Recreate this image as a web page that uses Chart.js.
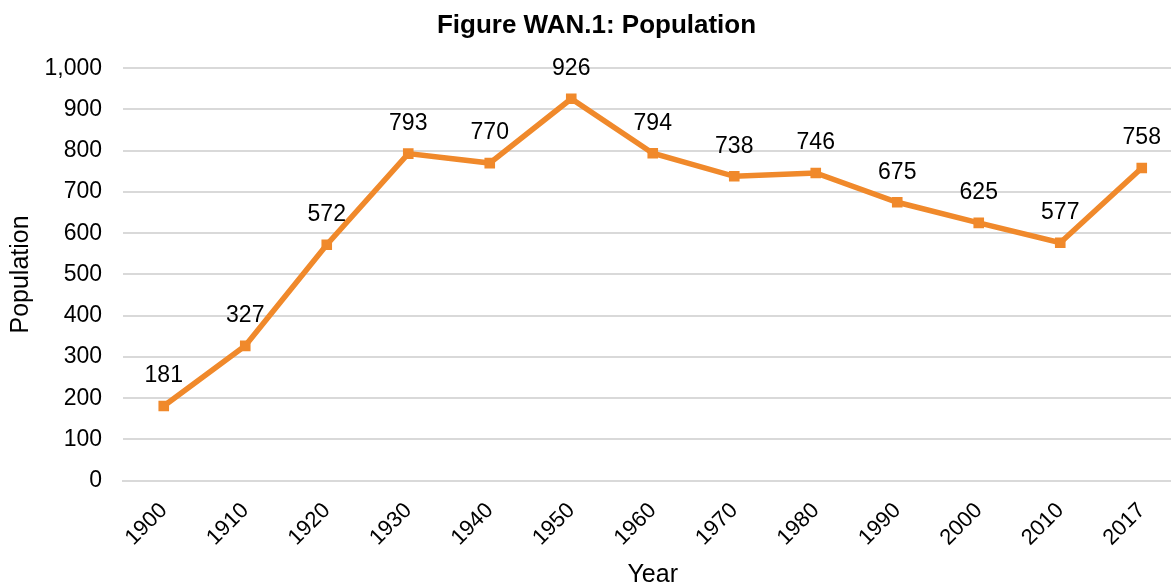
<!DOCTYPE html>
<html>
<head>
<meta charset="utf-8">
<script src="https://cdn.jsdelivr.net/npm/chart.js@4"></script>
<style>
  html, body { margin: 0; padding: 0; background: #fff; overflow: hidden; }
  #wrap { width: 1190px; height: 588px; position: relative; }
</style>
</head>
<body>
<div id="wrap"><canvas id="myChart"></canvas></div>
<script>
var years = ["1900", "1910", "1920", "1930", "1940", "1950", "1960", "1970", "1980", "1990", "2000", "2010", "2017"];
var population = [181, 327, 572, 793, 770, 926, 794, 738, 746, 675, 625, 577, 758];
var yTicks = [0, 100, 200, 300, 400, 500, 600, 700, 800, 900, 1000];

var orange = "#F0892B";
var fontFamily = "'Liberation Sans', Arial, sans-serif";

// draws the value above every point
var valueLabels = {
    id: 'valueLabels',
    afterDatasetsDraw: function (chart) {
        var ctx = chart.ctx;
        var meta = chart.getDatasetMeta(0);
        ctx.save();
        ctx.font = "23px " + fontFamily;
        ctx.fillStyle = "#000";
        ctx.textAlign = "center";
        ctx.textBaseline = "middle";
        meta.data.forEach(function (pt, i) {
            ctx.fillText(chart.data.datasets[0].data[i], pt.x, pt.y - 30);
        });
        ctx.restore();
    }
};

var ctx = document.getElementById("myChart");
var myChart = new Chart(ctx, {
    type: 'line',
    data: {
        labels: years,
        datasets: [{
            label: "Population",
            data: population,
            borderColor: orange,
            backgroundColor: orange,
            borderWidth: 5.5,
            pointStyle: 'rect',
            pointRadius: 7.5,
            pointHoverRadius: 7.5,
            pointBorderWidth: 0,
            tension: 0
        }]
    },
    plugins: [valueLabels],
    options: {
        responsive: true,
        maintainAspectRatio: false,
        animation: false,
        layout: {
            padding: { left: 6, right: 3, top: 6, bottom: 0 }
        },
        plugins: {
            legend: { display: false },
            tooltip: { enabled: false },
            title: {
                display: true,
                text: "Figure WAN.1: Population",
                color: "#000",
                font: { family: fontFamily, size: 26, weight: 'bold' },
                padding: { top: 4, bottom: 27 }
            }
        },
        scales: {
            x: {
                offset: true,
                afterFit: function (axis) {
                    // let the rotated first label hang past the plot edge
                    axis.paddingLeft = 0;
                    axis.paddingRight = 0;
                },
                grid: { display: false },
                border: { color: "#d9d9d9", width: 2 },
                ticks: {
                    color: "#000",
                    font: { family: fontFamily, size: 22 },
                    minRotation: 45,
                    maxRotation: 45,
                    padding: 9
                },
                title: {
                    display: true,
                    text: "Year",
                    color: "#000",
                    font: { family: fontFamily, size: 25, lineHeight: 1 },
                    padding: { top: 3, bottom: 0 }
                }
            },
            y: {
                min: 0,
                max: 1000,
                afterBuildTicks: function (axis) {
                    axis.ticks = yTicks.map(function (v) { return { value: v }; });
                },
                afterFit: function (axis) {
                    axis.width = 117;
                },
                grid: { color: "#d9d9d9", lineWidth: 2, drawTicks: false },
                border: { display: false },
                ticks: {
                    color: "#000",
                    font: { family: fontFamily, size: 23 },
                    padding: 21,
                    callback: function (v) { return v.toLocaleString('en-US'); }
                },
                title: {
                    display: true,
                    text: "Population",
                    color: "#000",
                    font: { family: fontFamily, size: 25 },
                    padding: { top: 0, bottom: 0 }
                }
            }
        }
    }
});
</script>
</body>
</html>
